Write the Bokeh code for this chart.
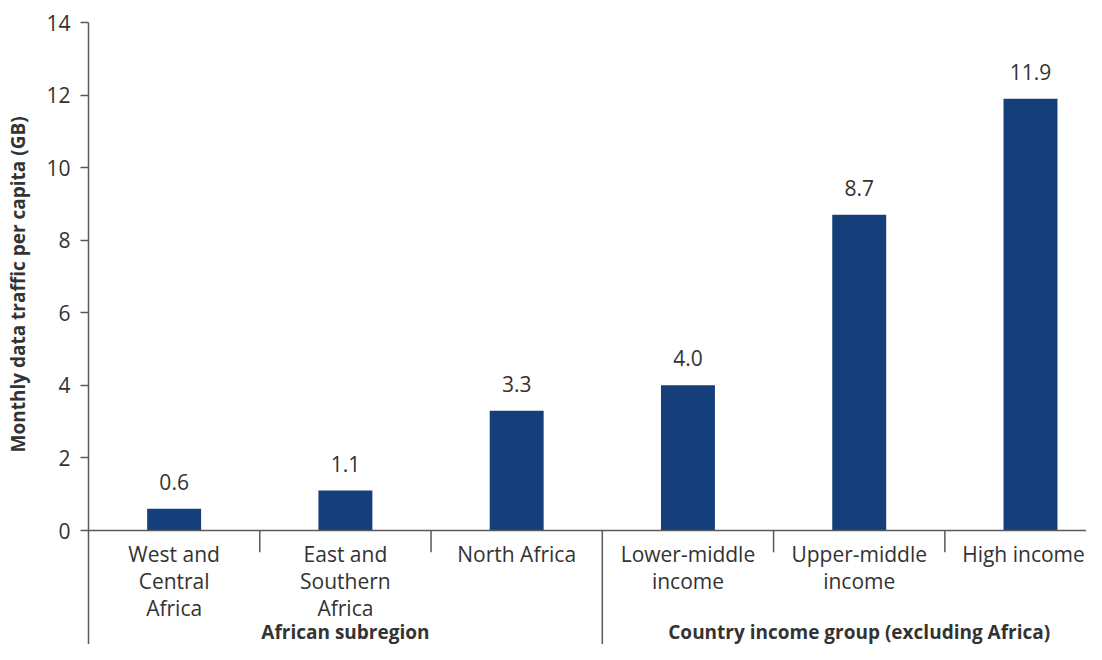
from bokeh.plotting import figure
from bokeh.models import Range1d, FixedTicker, ColumnDataSource, Span, Title
from bokeh.core.properties import value
from bokeh.embed import file_html
from bokeh.resources import INLINE

# ---- data ----
categories = ["West and\nCentral\nAfrica", "East and\nSouthern\nAfrica", "North Africa",
              "Lower-middle\nincome", "Upper-middle\nincome", "High income"]
group_names = ["African subregion", "Country income group (excluding Africa)"]
group_index = [0, 0, 0, 1, 1, 1]
values = [0.6, 1.1, 3.3, 4.0, 8.7, 11.9]
value_labels = ["0.6", "1.1", "3.3", "4.0", "8.7", "11.9"]
y_ticks = [0, 2, 4, 6, 8, 10, 12, 14]
y_title = "Monthly data traffic per capita (GB)"

FONT = "Open Sans"
TXT = "#333333"
BAR = "#153f7a"
AX = "#5a5a5a"

n = len(categories)
xs = [i + 0.5 for i in range(n)]
# keep the last label inside the canvas
label_dx = [0] * (n - 1) + [-7]

p = figure(width=1086, height=644, output_backend="svg", toolbar_location=None,
           x_range=Range1d(0, 5.827), y_range=Range1d(-3.141, 14),
           x_axis_location=None, min_border_left=88, min_border_right=0,
           min_border_top=22, min_border_bottom=0)
p.outline_line_color = None
p.xgrid.visible = False
p.ygrid.visible = False
p.background_fill_color = "white"
p.border_fill_color = "white"

ya = p.yaxis[0]
ya.ticker = FixedTicker(ticks=y_ticks)
ya.major_tick_out = 8
ya.major_tick_in = 0
ya.minor_tick_out = 0
ya.minor_tick_in = 0
ya.axis_line_color = AX
ya.axis_line_width = 1.5
ya.major_tick_line_color = AX
ya.major_tick_line_width = 1.5
ya.major_label_standoff = 10
ya.major_label_text_font = FONT
ya.major_label_text_font_size = "21px"
ya.major_label_text_color = TXT
ya.axis_label = " "
ya.axis_label_text_font_size = "2px"
ya.axis_label_standoff = 8

src = ColumnDataSource(dict(x=xs, top=values, lab=value_labels, cat=categories, dx=label_dx))
p.vbar(x="x", top="top", bottom=0, width=0.315, source=src, fill_color=BAR, line_color=None)

# zero line
p.add_layout(Span(location=0, dimension="width", line_color=AX, line_width=1.5))

# separators between categories
inner = [i for i in range(1, n) if group_index[i] == group_index[i - 1]]
group_bounds = [i for i in range(1, n) if group_index[i] != group_index[i - 1]]
p.segment(x0=inner, y0=[0] * len(inner), x1=inner, y1=[-0.6] * len(inner),
          line_color=AX, line_width=1.5)
p.segment(x0=group_bounds, y0=[0] * len(group_bounds), x1=group_bounds,
          y1=[-4] * len(group_bounds), line_color=AX, line_width=1.5)

# value labels
p.text(x="x", y="top", text="lab", source=src, text_align="center",
       text_baseline="alphabetic", y_offset=-27, text_font=value(FONT),
       text_font_size="21px", text_color=TXT)

# category labels
p.text(x="x", y=0, text="cat", source=src, text_align="center",
       text_baseline="top", y_offset=9, x_offset="dx", text_font=value(FONT),
       text_font_size="21px", text_color=TXT, text_line_height=0.97)

# group labels
gx = []
for g in range(len(group_names)):
    idx = [i for i in range(n) if group_index[i] == g]
    gx.append((min(idx) + max(idx) + 1) / 2)
p.text(x=gx, y=[-2.81] * len(gx), text=group_names, text_align="center",
       text_baseline="middle", text_font=value(FONT), text_font_size="19px",
       text_font_style="bold", text_color=TXT)

# y axis title (placed along the 0-14 span)
p.add_layout(Title(text=y_title, align="left", offset=192, text_font=FONT,
                   text_font_size="19px", text_font_style="bold", text_color=TXT,
                   standoff=0), "left")

open("out.html", "w").write(file_html(p, INLINE))
